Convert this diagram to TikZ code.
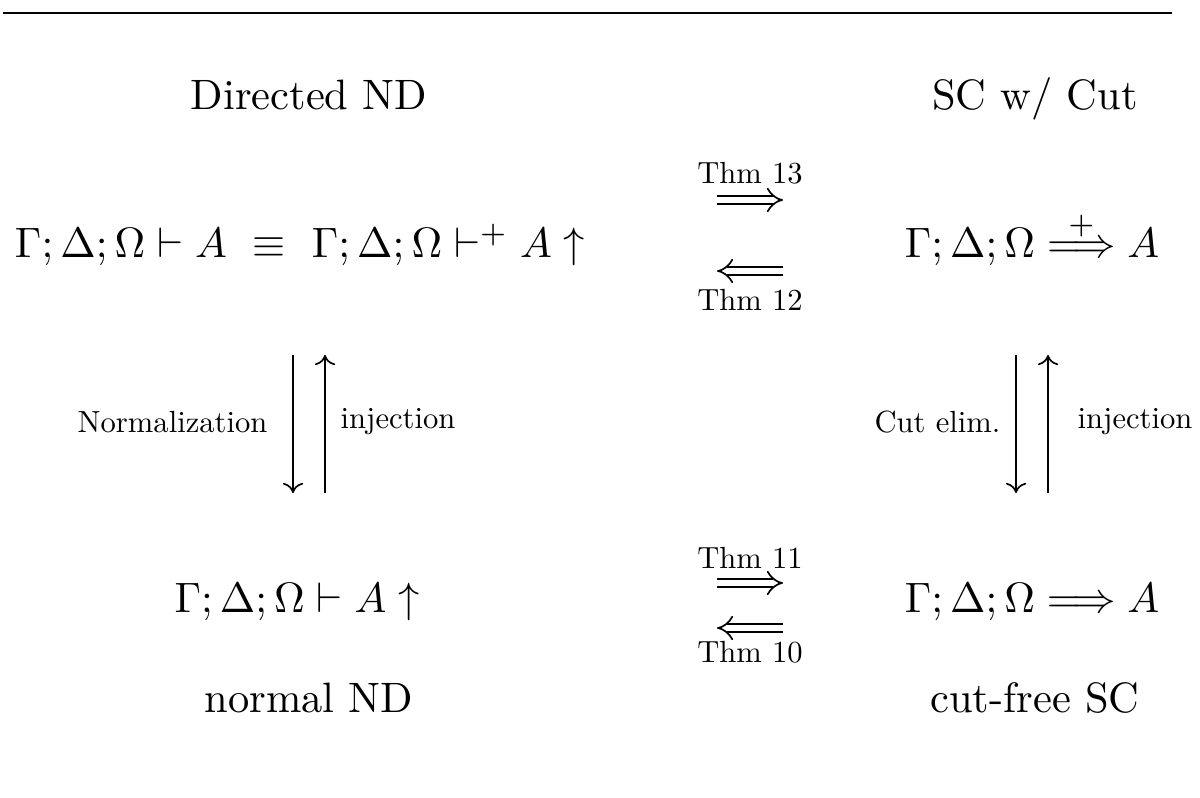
\documentclass[tikz,border=0pt]{standalone}
\usepackage{amsmath}
\usepackage{amssymb}
\usetikzlibrary{arrows.meta}

\begin{document}
\begin{tikzpicture}[
  x=0.2353pt,y=-0.2353pt,
  head/.style={anchor=base, inner sep=0pt},
  form/.style={anchor=base, inner sep=0pt},
  thm/.style={anchor=base, inner sep=0pt, scale=0.72},
  imp/.style={double, double distance=1.6pt, line width=0.4pt, -{Implies}},
  vert/.style={line width=0.4pt, -{To[length=2.4pt,width=4.8pt]}},
  side/.style={inner sep=0pt, scale=0.72}
]
\useasboundingbox (0,0) rectangle (1200,798);

% rule
\coordinate (rl) at (3,13);
\coordinate (rr) at (1172,13);
\draw[line width=0.7pt] (rl) -- (rr);

% headings
\node[head] (dnd) at (309,110) {Directed ND};
\node[head] (scc) at (1035,110) {SC w/ Cut};
\node[head] (nnd) at (309,712) {normal ND};
\node[head] (cfs) at (1035,712) {cut-free SC};

% judgements
\node[form] (dir) at (300,258) {$\Gamma;\Delta;\Omega\vdash A\ \equiv\ \Gamma;\Delta;\Omega\vdash^{+} A\uparrow$};
\node[form] (cut) at (1032,258) {$\Gamma;\Delta;\Omega\stackrel{+}{\Longrightarrow} A$};
\node[form] (nor) at (297,612) {$\Gamma;\Delta;\Omega\vdash A\uparrow$};
\node[form] (cfr) at (1032,612) {$\Gamma;\Delta;\Omega\Longrightarrow A$};

% top: theorems 13 and 12
\coordinate (t13a) at (717,200);
\coordinate (t13b) at (783,200);
\draw[imp] (t13a) -- (t13b);
\node[thm] (t13) at (750,184) {Thm 13};
\coordinate (t12a) at (783,271);
\coordinate (t12b) at (717,271);
\draw[imp] (t12a) -- (t12b);
\node[thm] (t12) at (750,311) {Thm 12};

% bottom: theorems 11 and 10
\coordinate (t11a) at (717,583);
\coordinate (t11b) at (783,583);
\draw[imp] (t11a) -- (t11b);
\node[thm] (t11) at (750,568) {Thm 11};
\coordinate (t10a) at (783,628);
\coordinate (t10b) at (717,628);
\draw[imp] (t10a) -- (t10b);
\node[thm] (t10) at (750,662) {Thm 10};

% left: normalization / injection
\coordinate (ln1) at (293,355);
\coordinate (ln2) at (293,493);
\coordinate (li1) at (325,493);
\coordinate (li2) at (325,355);
\draw[vert] (ln1) -- (ln2);
\draw[vert] (li1) -- (li2);
\node[side, anchor=east] (norm) at (268,422) {Normalization};
\node[side, anchor=west] (inj1) at (340,422) {injection};

% right: cut elimination / injection
\coordinate (rc1) at (1016,355);
\coordinate (rc2) at (1016,493);
\coordinate (ri1) at (1048,493);
\coordinate (ri2) at (1048,355);
\draw[vert] (rc1) -- (rc2);
\draw[vert] (ri1) -- (ri2);
\node[side, anchor=east] (celim) at (1001,422) {Cut elim.};
\node[side, anchor=west] (inj2) at (1077,422) {injection};

\end{tikzpicture}
\end{document}
